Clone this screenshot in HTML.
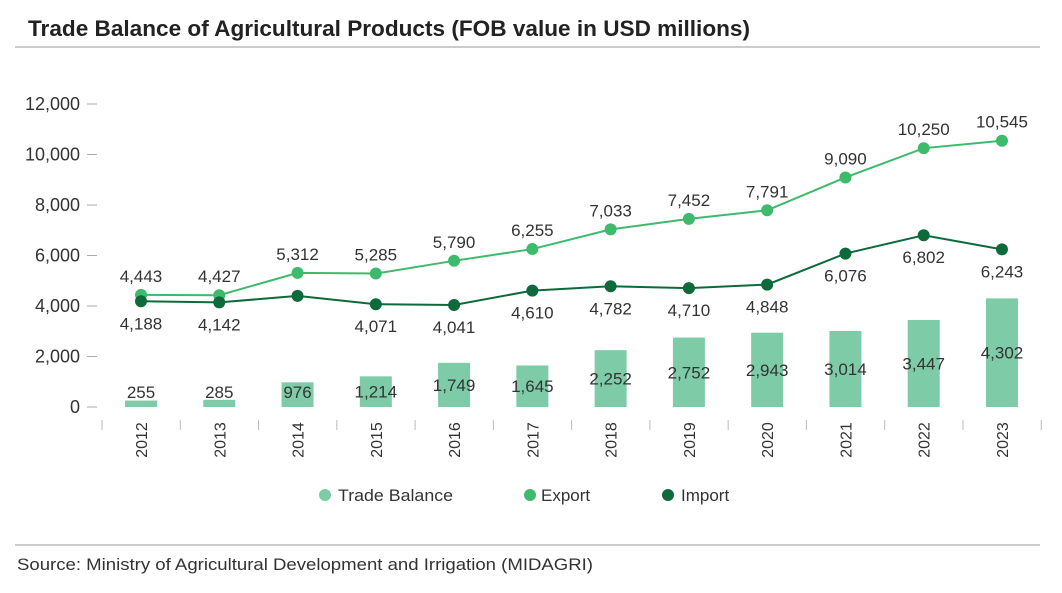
<!DOCTYPE html>
<html><head><meta charset="utf-8"><style>
body{margin:0;background:#fff;width:1062px;height:588px;overflow:hidden;font-family:"Liberation Sans",sans-serif}
svg text{font-family:"Liberation Sans",sans-serif}
</style></head><body>
<svg id="c" width="1062" height="588">
<text x="28" y="36" font-size="22" font-weight="bold" fill="#222" textLength="722" lengthAdjust="spacingAndGlyphs">Trade Balance of Agricultural Products (FOB value in USD millions)</text>
<line x1="15" y1="47" x2="1040" y2="47" stroke="#999" stroke-width="1"/>
<line x1="15" y1="545" x2="1040" y2="545" stroke="#999" stroke-width="1"/>
<text x="17" y="570" font-size="17" fill="#333" textLength="576" lengthAdjust="spacingAndGlyphs">Source: Ministry of Agricultural Development and Irrigation (MIDAGRI)</text>
<g id="legend">
<g><circle cx="325" cy="495" r="6" fill="#7ecba8"/><text x="338" y="501" font-size="17" fill="#333" textLength="115" lengthAdjust="spacingAndGlyphs">Trade Balance</text></g>
<g><circle cx="530" cy="495" r="6" fill="#3dba6c"/><text x="541" y="501" font-size="17" fill="#333">Export</text></g>
<g><circle cx="668" cy="495" r="6" fill="#0d6a3a"/><text x="681" y="501" font-size="17" fill="#333">Import</text></g>
</g>
</svg>
<script>
const years=["2012","2013","2014","2015","2016","2017","2018","2019","2020","2021","2022","2023"];
const balance=[255,285,976,1214,1749,1645,2252,2752,2943,3014,3447,4302];
const exportV=[4443,4427,5312,5285,5790,6255,7033,7452,7791,9090,10250,10545];
const importV=[4188,4142,4400,4071,4041,4610,4782,4710,4848,6076,6802,6243];
const importShown=[true,true,false,true,true,true,true,true,true,true,true,true];
const yTicks=[0,2000,4000,6000,8000,10000,12000];
const svg=document.getElementById('c');const NS='http://www.w3.org/2000/svg';
const y=v=>407-v*303/12000;
const x=i=>141+i*78.27;
const fmt=v=>v.toLocaleString('en-US');
function mk(t,a,p){const e=document.createElementNS(NS,t);for(const k in a)e.setAttribute(k,a[k]);(p||svg).appendChild(e);return e;}
yTicks.forEach(t=>{
 const l=mk('line',{x1:87,x2:97,y1:y(t),y2:y(t),stroke:'#aaa'});
 
 
 const tx=mk('text',{x:80,y:y(t)+6,'text-anchor':'end','font-size':18,fill:'#333'});tx.textContent=fmt(t);
 
 
});
for(let i=0;i<=years.length;i++){
 const l=mk('line',{x1:x(i)-39,x2:x(i)-39,y1:420,y2:430,stroke:'#bbb'});
 
 
}
years.forEach((yr,i)=>{
 const tx=mk('text',{x:0,y:0,'text-anchor':'middle','font-size':16,fill:'#333',transform:`translate(${x(i)+6},440) rotate(-90)`});tx.textContent=yr;
 
 
});
balance.forEach((v,i)=>{
 const r=mk('rect',{x:x(i)-16,y:y(v),width:32,height:407-y(v),fill:'#7ecba8'});
 
 
 const ly=Math.min(y(v/2),392);
 const tx=mk('text',{x:x(i),y:ly+6,'text-anchor':'middle','font-size':17,fill:'#333'});tx.textContent=fmt(v);
 
 
});
function series(vals,color,name,dy,shown){
 const p=mk('polyline',{points:vals.map((v,i)=>x(i)+','+y(v)).join(' '),fill:'none',stroke:color,'stroke-width':2});
 
 
 vals.forEach((v,i)=>{
  const c=mk('circle',{cx:x(i),cy:y(v),r:6,fill:color});
  
  
  if(shown&&!shown[i])return;
  const tx=mk('text',{x:x(i),y:y(v)+dy,'text-anchor':'middle','font-size':17,fill:'#333'});tx.textContent=fmt(v);
  
  
 });
}
series(exportV,'#3dba6c','export',-13,null);
series(importV,'#0d6a3a','import',28,importShown);
</script>
</body></html>
